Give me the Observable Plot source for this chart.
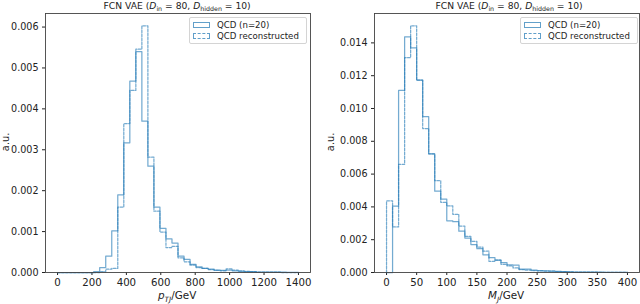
<!DOCTYPE html>
<html><head><meta charset="utf-8">
<script src="https://cdn.jsdelivr.net/npm/d3@7"></script>
<script src="https://cdn.jsdelivr.net/npm/@observablehq/plot@0.6"></script>
<style>
html,body{margin:0;padding:0;background:#fff;}
#wrap{position:relative;width:640px;height:304px;font-family:"DejaVu Sans",sans-serif;color:#222;overflow:hidden;}
.panel{position:absolute;top:0;}
.t{position:absolute;white-space:nowrap;font-size:9.2px;line-height:1;}
.t sub{font-size:6.3px;vertical-align:-1.5px;line-height:0;}
.xl{position:absolute;white-space:nowrap;font-size:10.4px;line-height:1;}
.xl sub{font-size:7.3px;vertical-align:-2.5px;line-height:0;}
.yl{position:absolute;font-size:9.8px;transform:rotate(-90deg);transform-origin:center;white-space:nowrap;line-height:1;}
.leg{position:absolute;border:1px solid #d4d4d4;border-radius:2px;background:rgba(255,255,255,0.85);width:116px;height:25px;}
.leg .h{position:absolute;left:3px;width:15px;height:4px;border:1px solid rgba(31,119,180,0.7);}
.leg .lt{position:absolute;left:27px;font-size:8.6px;line-height:1;white-space:nowrap;}
</style></head>
<body><div id="wrap"></div>
<script>
// ---- data ----
const ptEdges = [0,35,70,105,140,175,210,245,280,315,350,385,420,455,490,525,560,595,630,665,700,735,770,805,840,875,910,945,980,1015,1050,1085,1120,1155,1190,1225,1260,1295,1330,1365,1400];
const ptQCD = [0,0,0,0,0,0,0.00002,0.00012,0.0004,0.00102,0.0019,0.00317,0.00468,0.0054,0.0037,0.0026,0.0016,0.00108,0.00082,0.00072,0.0004,0.00032,0.0002,0.00014,0.0001,0.00008,0.00006,0.00005,0.00006,0.00004,0.00003,0.00002,0.00002,0.00001,0.00001,0.00001,0.00001,0.00001,0.000005,0.000005];
const ptReco = [0,0,0,0,0,0,0,0.00002,0.00008,0.0001,0.0016,0.00364,0.00445,0.00546,0.00603,0.00282,0.0015,0.00099,0.00061,0.00064,0.00036,0.00026,0.00018,0.00012,0.0001,0.00007,0.00005,0.00004,0.00009,0.00006,0.00004,0.00003,0.00002,0.00001,0.00001,0.00001,0.00001,0,0,0];
const mEdges = [0,10,20,30,40,50,60,70,80,90,100,110,120,130,140,150,160,170,180,190,200,210,220,230,240,250,260,270,280,290,300,310,320,330,340,350,360,370,380,390,400];
const mQCD = [0,0.00405,0.0111,0.01437,0.0137,0.01173,0.0095,0.00724,0.00496,0.00448,0.00315,0.0031,0.00252,0.0021,0.0017,0.00145,0.00108,0.0009,0.00075,0.0006,0.00046,0.00045,0.0002,0.0002,0.00014,0.00012,0.0001,0.00008,0.00007,0.00006,0.00004,0.00003,0.00003,0.00002,0.00002,0.00002,0.00001,0.00001,0.00001,0.00001];
const mReco = [0.00437,0.00278,0.0066,0.0131,0.01504,0.01173,0.00878,0.00724,0.0056,0.00428,0.00406,0.00355,0.00283,0.0022,0.0019,0.00155,0.0013,0.00068,0.00075,0.0005,0.0004,0.00028,0.00018,0.00015,0.00012,0.0001,0.00009,0.00008,0.00006,0.00005,0.00004,0.00003,0.00003,0.00002,0.00002,0.00001,0.00001,0.00001,0.00001,0.00001];
const ptTicks = [0,200,400,600,800,1000,1200,1400];
const ptYTicks = [0,0.001,0.002,0.003,0.004,0.005,0.006];
const mTicks = [0,50,100,150,200,250,300,350,400];
const mYTicks = [0,0.002,0.004,0.006,0.008,0.010,0.012,0.014];
const legendLabels = ["QCD (n=20)", "QCD reconstructed"];

const BLUE = "#1f77b4";

function stepPts(edges, vals) {
  const pts = [{x: edges[0], y: 0}];
  vals.forEach((v, i) => pts.push({x: edges[i], y: v}));
  pts.push({x: edges[edges.length - 1], y: vals[vals.length - 1]});
  pts.push({x: edges[edges.length - 1], y: 0});
  return pts;
}

function panel(edges, a, b, xt, yt, ml, mr) {
  const lo = edges[0], hi = edges[edges.length - 1], pad = (hi - lo) * 0.05;
  const ymax = Math.max(d3.max(a), d3.max(b)) * 1.05;
  return Plot.plot({
    width: 320, height: 304,
    marginLeft: ml, marginRight: mr, marginTop: 13, marginBottom: 32,
    style: {fontFamily: "DejaVu Sans", fontSize: "10px", color: "#222", background: "transparent", overflow: "visible"},
    x: {domain: [lo - pad, hi + pad], label: null},
    y: {domain: [0, ymax], label: null},
    marks: [
      Plot.axisX({ticks: xt, tickSize: 3, tickPadding: 3, tickFormat: d => String(d), fontSize: 10.2, label: null}),
      Plot.axisY({ticks: yt, tickSize: 3, tickPadding: 4, tickFormat: d3.format(".3f"), fontSize: 9.6, label: null}),
      Plot.line(stepPts(edges, a), {x: "x", y: "y", curve: "step-after", stroke: BLUE, strokeOpacity: 0.62, strokeWidth: 1.25}),
      Plot.line(stepPts(edges, b), {x: "x", y: "y", curve: "step-after", stroke: BLUE, strokeOpacity: 0.62, strokeWidth: 1.25, strokeDasharray: "2.6,1.4"}),
      Plot.frame({stroke: "#444", strokeWidth: 0.9})
    ]
  });
}

const wrap = document.getElementById("wrap");
function add(el, left) { el.classList.add("panel"); el.style.left = left + "px"; wrap.appendChild(el); }
add(panel(ptEdges, ptQCD, ptReco, ptTicks, ptYTicks, 45, 10), 0);
add(panel(mEdges, mQCD, mReco, mTicks, mYTicks, 54, 1), 320);

function html(cls, x, y, inner, center) {
  const d = document.createElement("div");
  d.className = cls; d.innerHTML = inner;
  d.style.left = x + "px"; d.style.top = y + "px";
  wrap.appendChild(d);
  if (center) d.style.left = (x - d.offsetWidth / 2) + "px";
  return d;
}
const title = 'FCN VAE (<i>D</i><sub>in</sub> = 80, <i>D</i><sub>hidden</sub> = 10)';
html("t", 177, 1, title, true);
html("t", 509, 1, title, true);
html("xl", 177, 290, '<i>p</i><sub><i>TJ</i></sub>/GeV', true);
html("xl", 506, 290, '<i>M</i><sub><i>J</i></sub>/GeV', true);
function ylab(cx, cy) {
  const d = html("yl", 0, 0, "a.u.");
  d.style.left = (cx - d.offsetWidth / 2) + "px";
  d.style.top = (cy - d.offsetHeight / 2) + "px";
}
ylab(6, 142);
ylab(331, 142);
function legend(x) {
  const box = html("leg", x, 17, "");
  const h1 = document.createElement("div"); h1.className = "h"; h1.style.top = "4px"; box.appendChild(h1);
  const h2 = document.createElement("div"); h2.className = "h"; h2.style.top = "14.5px"; h2.style.borderStyle = "dashed"; box.appendChild(h2);
  const t1 = document.createElement("div"); t1.className = "lt"; t1.style.top = "3px"; t1.textContent = legendLabels[0]; box.appendChild(t1);
  const t2 = document.createElement("div"); t2.className = "lt"; t2.style.top = "13.5px"; t2.textContent = legendLabels[1]; box.appendChild(t2);
}
legend(189);
legend(520);
</script></body></html>
